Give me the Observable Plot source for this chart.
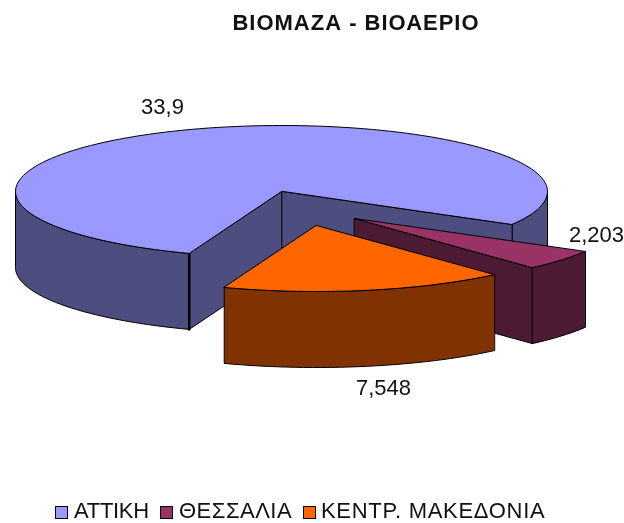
<!DOCTYPE html>
<html><head><meta charset="utf-8">
<script src="https://cdn.jsdelivr.net/npm/d3@7"></script>
<script src="https://cdn.jsdelivr.net/npm/@observablehq/plot@0.6"></script>
<style>
html,body{margin:0;padding:0;background:#fff}
body{width:624px;height:523px;overflow:hidden;font-family:"Liberation Sans",Arial,sans-serif;color:#111;filter:blur(0.4px)}
#title{height:40px;line-height:45px;text-align:center;font-weight:bold;font-size:22px;letter-spacing:1px;padding-left:88px;box-sizing:border-box;white-space:nowrap}
#chart svg{display:block}
#legend{position:relative;height:38px}
#legend .sw{position:absolute;top:21px;width:11px;height:11px;border:1px solid #000}
#legend .tx{position:absolute;top:14px;font-size:22px;line-height:24px;white-space:nowrap}
</style></head><body>
<div id="title"></div><div id="chart"></div><div id="legend"></div>
<script>
const titleText = "ΒΙΟΜΑΖΑ - ΒΙΟΑΕΡΙΟ";
const regions = ["ΑΤΤΙΚΗ", "ΘΕΣΣΑΛΙΑ", "ΚΕΝΤΡ. ΜΑΚΕΔΟΝΙΑ"];
const values = [33.9, 2.203, 7.548];
const valueLabels = ["33,9", "2,203", "7,548"];
const topColors = ["#9999FF", "#993366", "#FF6600"];
const sideColors = ["#4D4D80", "#4D1A33", "#803300"];

// pie layout, in chart units
const W = 624, H = 445;
const rx = 266, ry = 66, depth = 76, startDeg = 110.3;
const centers = [[281, 151], [354, 178], [316, 185]];
const labelAnchors = [[162, 66], [596, 194], [383, 347]];
const legendSw = [55, 160, 303], legendTx = [74, 179, 321], legendSpacing = [-0.3, 0.5, 0.7];

const total = d3.sum(values);
let acc = startDeg;
const slices = values.map((v, i) => {
  const a0 = acc; acc += v / total * 360;
  return {i, a0, a1: acc, c: centers[i]};
});
const pt = (s, deg, dz = 0) => {
  const t = deg * Math.PI / 180;
  return {x: s.c[0] + rx * Math.cos(t), y: s.c[1] + ry * Math.sin(t) + dz};
};
const arc = (s, a0, a1, dz = 0) => {
  const out = [], n = Math.max(2, Math.ceil(Math.abs(a1 - a0) / 2));
  for (let k = 0; k <= n; k++) out.push(pt(s, a0 + (a1 - a0) * k / n, dz));
  return out;
};
const apex = (s, dz = 0) => ({x: s.c[0], y: s.c[1] + dz});
const wallOuter = (s, a0, a1) => [...arc(s, a0, a1), ...arc(s, a1, a0, depth)];
const wallInner = (s, a) => [apex(s), pt(s, a), pt(s, a, depth), apex(s, depth)];
const topFace = s => [apex(s), ...arc(s, s.a0, s.a1)];

const face = (pts, fill, sw = 1) => Plot.line(pts, {x: "x", y: "y", fill, stroke: "#000", strokeWidth: sw, curve: "linear-closed", strokeLinejoin: "miter"});
const [m, t, o] = slices;
const marks = [
  // main slice: walls then top
  face(wallOuter(m, m.a0, 180), sideColors[0]),
  face(wallOuter(m, 360, m.a1), sideColors[0]),
  face(wallInner(m, m.a1), sideColors[0]),
  face(wallInner(m, m.a0), sideColors[0]),
  Plot.line([pt(m, m.a0), pt(m, m.a0, depth)], {x: "x", y: "y", stroke: "#000", strokeWidth: 2.5}),
  face(topFace(m), topColors[0]),
  // second slice
  face(wallInner(t, t.a1), sideColors[1]),
  face(wallOuter(t, t.a0, t.a1), sideColors[1]),
  face(topFace(t), topColors[1]),
  // third slice
  face(wallOuter(o, o.a0, o.a1), sideColors[2]),
  face(topFace(o), topColors[2]),
  Plot.text(valueLabels.map((l, i) => ({l, x: labelAnchors[i][0], y: labelAnchors[i][1]})), {
    x: "x", y: "y", text: "l", fontSize: 22, fontFamily: "Liberation Sans, Arial, sans-serif", fill: "#111", textAnchor: "middle"
  })
];

document.getElementById("title").textContent = titleText;
document.getElementById("chart").append(Plot.plot({
  width: W, height: H, margin: 0,
  x: {domain: [0, W], range: [0, W], axis: null},
  y: {domain: [0, H], range: [0, H], axis: null},
  marks
}));
const lg = document.getElementById("legend");
regions.forEach((r, i) => {
  const sw = document.createElement("div"); sw.className = "sw";
  sw.style.left = legendSw[i] + "px"; sw.style.background = topColors[i]; lg.append(sw);
  const tx = document.createElement("div"); tx.className = "tx";
  tx.style.left = legendTx[i] + "px"; tx.style.letterSpacing = legendSpacing[i] + "px"; tx.textContent = r; lg.append(tx);
});
</script></body></html>
